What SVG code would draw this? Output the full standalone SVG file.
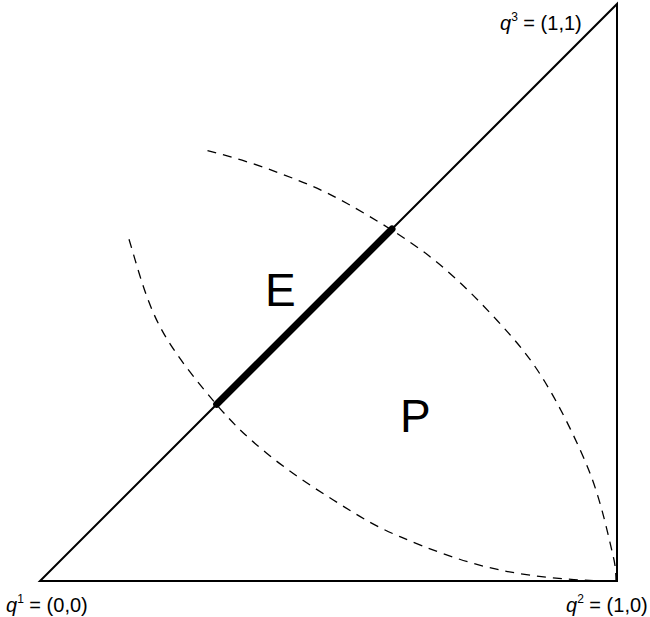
<svg xmlns="http://www.w3.org/2000/svg" width="650" height="617" viewBox="0 0 650 617">
<style>
.edge{fill:none;stroke:#000;stroke-width:2;stroke-linecap:square}
.dash{fill:none;stroke:#000;stroke-width:1.3;stroke-dasharray:9 7}
.thick{fill:none;stroke:#000;stroke-width:7;stroke-linecap:round}
.lbl{font-family:"Liberation Sans",Arial,sans-serif;font-size:20px;fill:#000}
.big{font-family:"Liberation Sans",Arial,sans-serif;font-size:46px;fill:#000}
</style>
<rect width="650" height="617" fill="#fff"/>
<g id="connectors">
<path class="edge" d="M40,581 L617,581 L617,4 Z"/>
<path class="dash" d="M129,239.3 C138,269 145.7,299.5 160,326.7 C174.3,353.9 197.2,381.6 215,402.7 C232.8,423.8 247,437.1 266.7,453.3 C286.4,469.5 311.1,486.1 333.3,500 C355.5,513.9 372.2,525 400,536.7 C427.8,548.4 463.8,562.6 500,570 C536.2,577.4 578,581 617,581"/>
<path class="dash" d="M207.5,150.7 C231.8,156.5 256.8,164.5 280,173.3 C303.2,182.1 321.7,189.4 346.7,203.3 C371.7,217.2 405,237.2 430,256.7 C455,276.2 477.5,299.1 496.7,320 C515.9,340.9 529.4,356.4 545,382 C560.6,407.6 578.6,444.2 590,473.3 C601.4,502.4 609,538.7 613.3,556.7 C615.5,565 616,575 616,581"/>
<path class="thick" d="M216.7,404.3 L392,229"/>
</g>
<g id="E"><text class="big" x="265" y="305.7">E</text></g>
<g id="P"><text class="big" x="400" y="432">P</text></g>
<g id="q1"><text class="lbl" x="6" y="612"><tspan font-style="italic">q</tspan><tspan font-size="12" dy="-9">1</tspan><tspan dy="9"> = (0,0)</tspan></text></g>
<g id="q2"><text class="lbl" x="566" y="612"><tspan font-style="italic">q</tspan><tspan font-size="12" dy="-9">2</tspan><tspan dy="9"> = (1,0)</tspan></text></g>
<g id="q3"><text class="lbl" x="500" y="30"><tspan font-style="italic">q</tspan><tspan font-size="12" dy="-9">3</tspan><tspan dy="9"> = (1,1)</tspan></text></g>
</svg>
